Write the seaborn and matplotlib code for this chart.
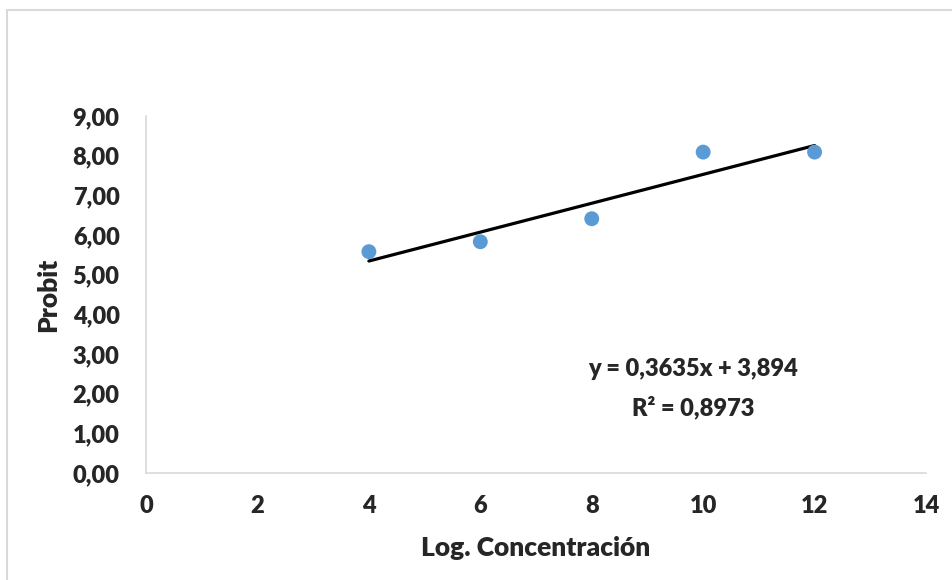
import matplotlib
matplotlib.use('Agg')
import matplotlib.pyplot as plt
import seaborn as sns
import pandas as pd
from matplotlib.ticker import FuncFormatter, MultipleLocator
from matplotlib.patches import Rectangle

# datos
log_conc = [4, 6, 8, 10, 12]
probit = [5.58, 5.83, 6.41, 8.09, 8.09]
eq_text = 'y = 0,3635x + 3,894'
r2_text = 'R² = 0,8973'

sns.set_style('white')
plt.rcParams['font.family'] = ['Lato', 'DejaVu Sans']

df = pd.DataFrame({'x': log_conc, 'y': probit})

fig = plt.figure(figsize=(9.52, 5.8), dpi=100)
ax = fig.add_axes([0.1534, 0.1845, 0.8193, 0.6155])

# marco gris del gráfico
fig.patches.append(Rectangle((7 / 952, -0.05), 1.0, 570 / 580 + 0.05, transform=fig.transFigure,
                             fill=False, edgecolor='#D9D9D9', linewidth=1.5))

sns.regplot(data=df, x='x', y='y', ax=ax, ci=None, truncate=True,
            scatter_kws={'color': '#5B9BD5', 's': 115, 'alpha': 1, 'edgecolors': 'none', 'zorder': 3},
            line_kws={'color': 'black', 'linewidth': 2.3, 'zorder': 2})

ax.set_xlim(0, 14)
ax.set_ylim(0, 9)
ax.xaxis.set_major_locator(MultipleLocator(2))
ax.yaxis.set_major_locator(MultipleLocator(1))
ax.yaxis.set_major_formatter(FuncFormatter(lambda v, p: f'{v:.2f}'.replace('.', ',')))

for s in ['top', 'right']:
    ax.spines[s].set_visible(False)
for s in ['left', 'bottom']:
    ax.spines[s].set_color('#D9D9D9')
    ax.spines[s].set_linewidth(1.2)

ax.tick_params(axis='both', length=0, labelsize=17)
ax.tick_params(axis='x', pad=16)
ax.tick_params(axis='y', pad=19)
for lab in ax.get_xticklabels() + ax.get_yticklabels():
    lab.set_fontweight('heavy')

ax.set_xlabel('Log. Concentración', fontsize=19, fontweight='heavy', va='center')
ax.set_ylabel('Probit', fontsize=19, fontweight='heavy', va='center')
ax.xaxis.set_label_coords(0.5, -0.21)
ax.yaxis.set_label_coords(-0.1256, 0.5)

ax.text(9.82, 2.62, eq_text, ha='center', va='center', fontsize=17, fontweight='heavy')
ax.text(9.82, 1.66, r2_text, ha='center', va='center', fontsize=17, fontweight='heavy')

fig.savefig('out.png', dpi=100)
